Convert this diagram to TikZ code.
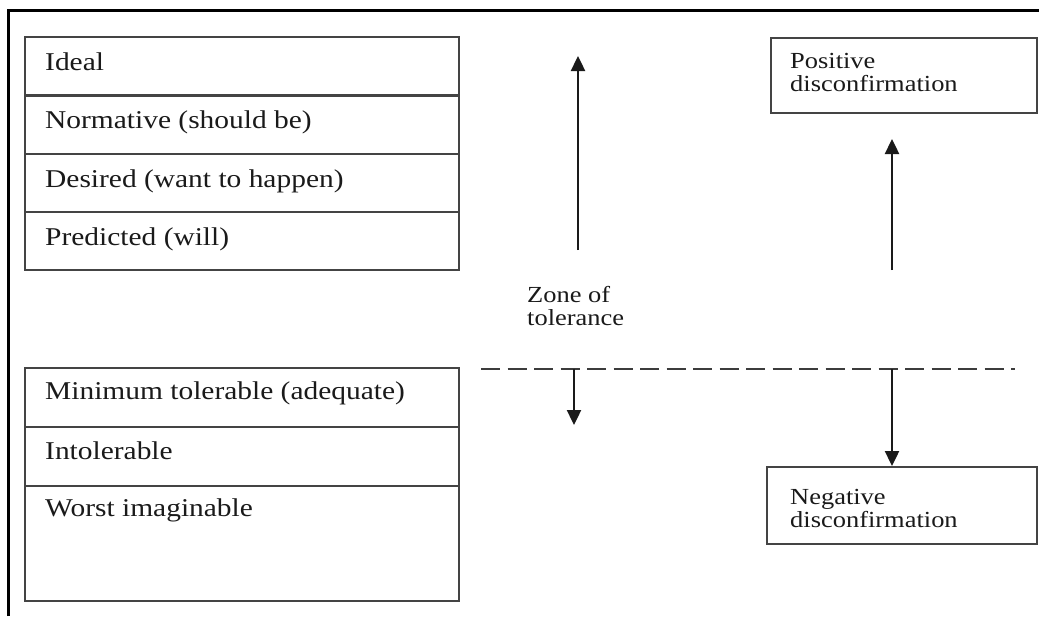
\documentclass[tikz,border=0pt]{standalone}
\usepackage{fontspec}
\setmainfont{Liberation Serif}
\usetikzlibrary{arrows.meta}
\newcommand{\hs}[1]{\scalebox{1.15}[1]{#1}}
\definecolor{boxline}{HTML}{444444}
\definecolor{ink}{HTML}{1A1A1A}
\tikzset{
  rowbox/.style={draw=boxline, line width=2.4pt, minimum width=434pt, inner sep=0pt, anchor=north west},
  rowtext/.style={anchor=west, text=ink, inner sep=0pt, font=\fontsize{25.6}{28}\selectfont},
  sidebox/.style={draw=boxline, line width=2.4pt, inner sep=0pt, anchor=north west},
  sidetext/.style={anchor=north west, align=left, text=ink, inner sep=0pt, font=\fontsize{23}{23.5}\selectfont},
  uparrow/.style={draw=ink, line width=2.4pt, -{Triangle[width=14pt,length=15pt]}},
  dashline/.style={draw=ink!85, line width=2.4pt, dash pattern=on 19pt off 7.5pt}
}
\begin{document}
\begin{tikzpicture}[x=1pt,y=-1pt]
\useasboundingbox (0,0) rectangle (1039,616);
\fill[white] (0,0) rectangle (1039,616);
% outer frame
\draw[line width=3pt, black] (8.5,616) -- (8.5,10) -- (1039,10);
% upper box rows
\node[rowbox, minimum height=58.25pt] (r1) at (24,36) {};
\node[rowbox, minimum height=58.25pt] (r2) at (24,94.25) {};
\node[rowbox, minimum height=58.25pt] (r3) at (24,152.5) {};
\node[rowbox, minimum height=58.25pt] (r4) at (24,210.75) {};
\node[rowtext] (t1) at (45,62) {\hs{Ideal}};
\node[rowtext] (t2) at (45,122) {\hs{Normative (should be)}};
\node[rowtext] (t3) at (45,181) {\hs{Desired (want to happen)}};
\node[rowtext] (t4) at (45,239) {\hs{Predicted (will)}};
% lower box rows
\node[rowbox, minimum height=59pt] (s1) at (24,367) {};
\node[rowbox, minimum height=59pt] (s2) at (24,426) {};
\node[rowbox, minimum height=115pt] (s3) at (24,485) {};
\node[rowtext] (u1) at (45,393) {\hs{Minimum tolerable (adequate)}};
\node[rowtext] (u2) at (45,451) {\hs{Intolerable}};
\node[rowtext] (u3) at (45,510) {\hs{Worst imaginable}};
% right boxes
\node[sidebox, minimum width=266pt, minimum height=75pt] (pos) at (770,37) {};
\node[sidetext] (post) at (790,53) {\hs{Positive}\\\hs{disconfirmation}};
\node[sidebox, minimum width=270pt, minimum height=77pt] (neg) at (766,466) {};
\node[sidetext] (negt) at (790,489) {\hs{Negative}\\\hs{disconfirmation}};
% zone label
\node[sidetext] (zone) at (527,286) {\hs{Zone of}\\\hs{tolerance}};
% connectors
\coordinate (zb) at (578,250);
\coordinate (zt) at (578,56);
\draw[uparrow] (zb) -- (zt);
\coordinate (pb) at (892,270);
\coordinate (pt) at (892,139);
\draw[uparrow] (pb) -- (pt);
\coordinate (dl) at (481,369);
\coordinate (dr) at (1015,369);
\draw[dashline] (dl) -- (dr);
\coordinate (sa) at (574,369);
\coordinate (sb) at (574,425);
\draw[uparrow] (sa) -- (sb);
\coordinate (na) at (892,369);
\draw[uparrow] (na) -- (na |- neg.north);
\end{tikzpicture}
\end{document}
